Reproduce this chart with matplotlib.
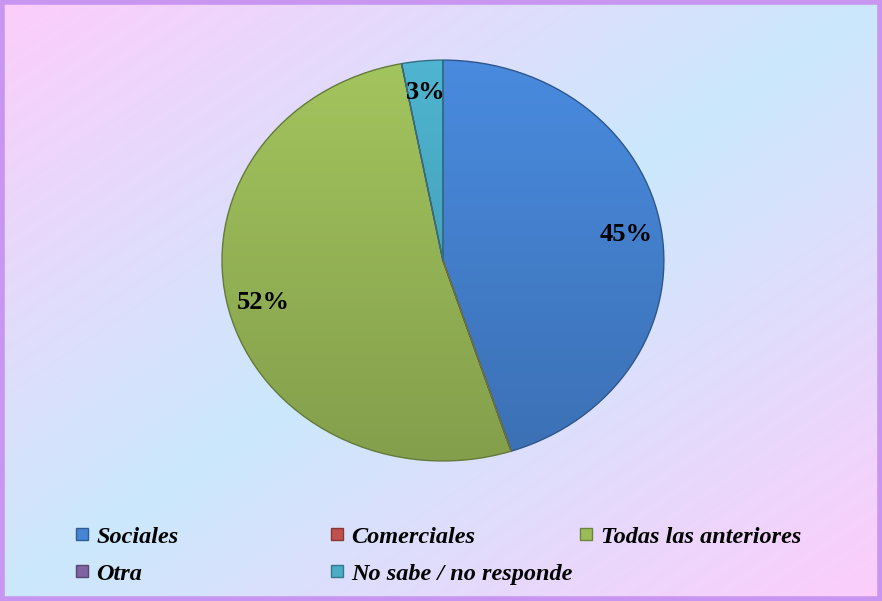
import numpy as np
import matplotlib.pyplot as plt
from matplotlib.patches import Rectangle
from matplotlib.colors import to_rgb
from matplotlib.lines import Line2D

categorias = ['Sociales', 'Comerciales', 'Todas las anteriores', 'Otra', 'No sabe / no responde']
valores = [45, 0, 52, 0, 3]
colores = ['#4684d4', '#c0504d', '#9bbb59', '#8064a2', '#4bacc6']
serif = 'Liberation Serif'

W, H = 882, 601
fig = plt.figure(figsize=(W / 100, H / 100), dpi=100)

# fondo degradado rosa -> celeste -> rosa en diagonal
bg = fig.add_axes([0, 0, 1, 1])
bg.set_axis_off()
xx, yy = np.meshgrid(np.linspace(0, 1, 300), np.linspace(0, 1, 200))
s = np.abs((xx + yy) - 1.0)
rosa = np.array(to_rgb('#fdcdfb'))
celeste = np.array(to_rgb('#cbe8fc'))
img = celeste[None, None, :] * (1 - s[..., None]) + rosa[None, None, :] * s[..., None]
bg.imshow(img, extent=[0, 1, 0, 1], aspect='auto', origin='upper')
bg.set_xlim(0, 1)
bg.set_ylim(0, 1)
bg.add_patch(Rectangle((0.002, 0.003), 0.996, 0.994, transform=bg.transAxes,
                       fill=False, edgecolor='#c896f0', linewidth=4))

# torta
ax = fig.add_axes([0.2517, 0.233, 0.501, 0.667])
ax.patch.set_alpha(0)


def pct(p):
    return '{:.0f}%'.format(p) if p > 0 else ''


wedges, textos, autotextos = ax.pie(valores, colors=colores, startangle=90, counterclock=False,
                                    autopct=pct, pctdistance=0.84,
                                    wedgeprops=dict(linewidth=1.0),
                                    textprops=dict(family=serif, weight='bold', size=19))
ax.set_aspect('auto')

# sombreado vertical en cada porcion
yy2 = np.linspace(1, -1, 200)[:, None] * np.ones((1, 200))
for w, c in zip(wedges, colores):
    base = np.array(to_rgb(c))
    f = 1.05 - 0.2 * (1 - yy2) / 2
    tex = np.clip(base[None, None, :] * f[..., None], 0, 1)
    im = ax.imshow(tex, extent=[-1, 1, -1, 1], aspect='auto', zorder=w.get_zorder() + 0.1)
    im.set_clip_path(w)
    w.set_edgecolor(tuple(base * 0.65))
    w.set_zorder(w.get_zorder() + 0.2)
    w.set_facecolor('none')

for t in autotextos:
    t.set_color('black')
    t.set_zorder(10)
ax.set_xlim(-1, 1)
ax.set_ylim(-1, 1)

# leyenda en tres columnas
columnas = [[0, 3], [1, 4], [2]]
xs = [0.054, 0.343, 0.626]
for col, x in zip(columnas, xs):
    handles = [Line2D([], [], marker='s', linestyle='none', markersize=8,
                      markerfacecolor=colores[i], markeredgecolor=tuple(np.array(to_rgb(colores[i])) * 0.7))
               for i in col]
    fig.legend(handles, [categorias[i] for i in col], loc='upper left',
               bbox_to_anchor=(x, 0.162), frameon=False, handletextpad=0.1,
               handlelength=1.0, labelspacing=0.63,
               prop=dict(family=serif, weight='bold', style='italic', size=17.5))

fig.savefig('out.png', dpi=100)
